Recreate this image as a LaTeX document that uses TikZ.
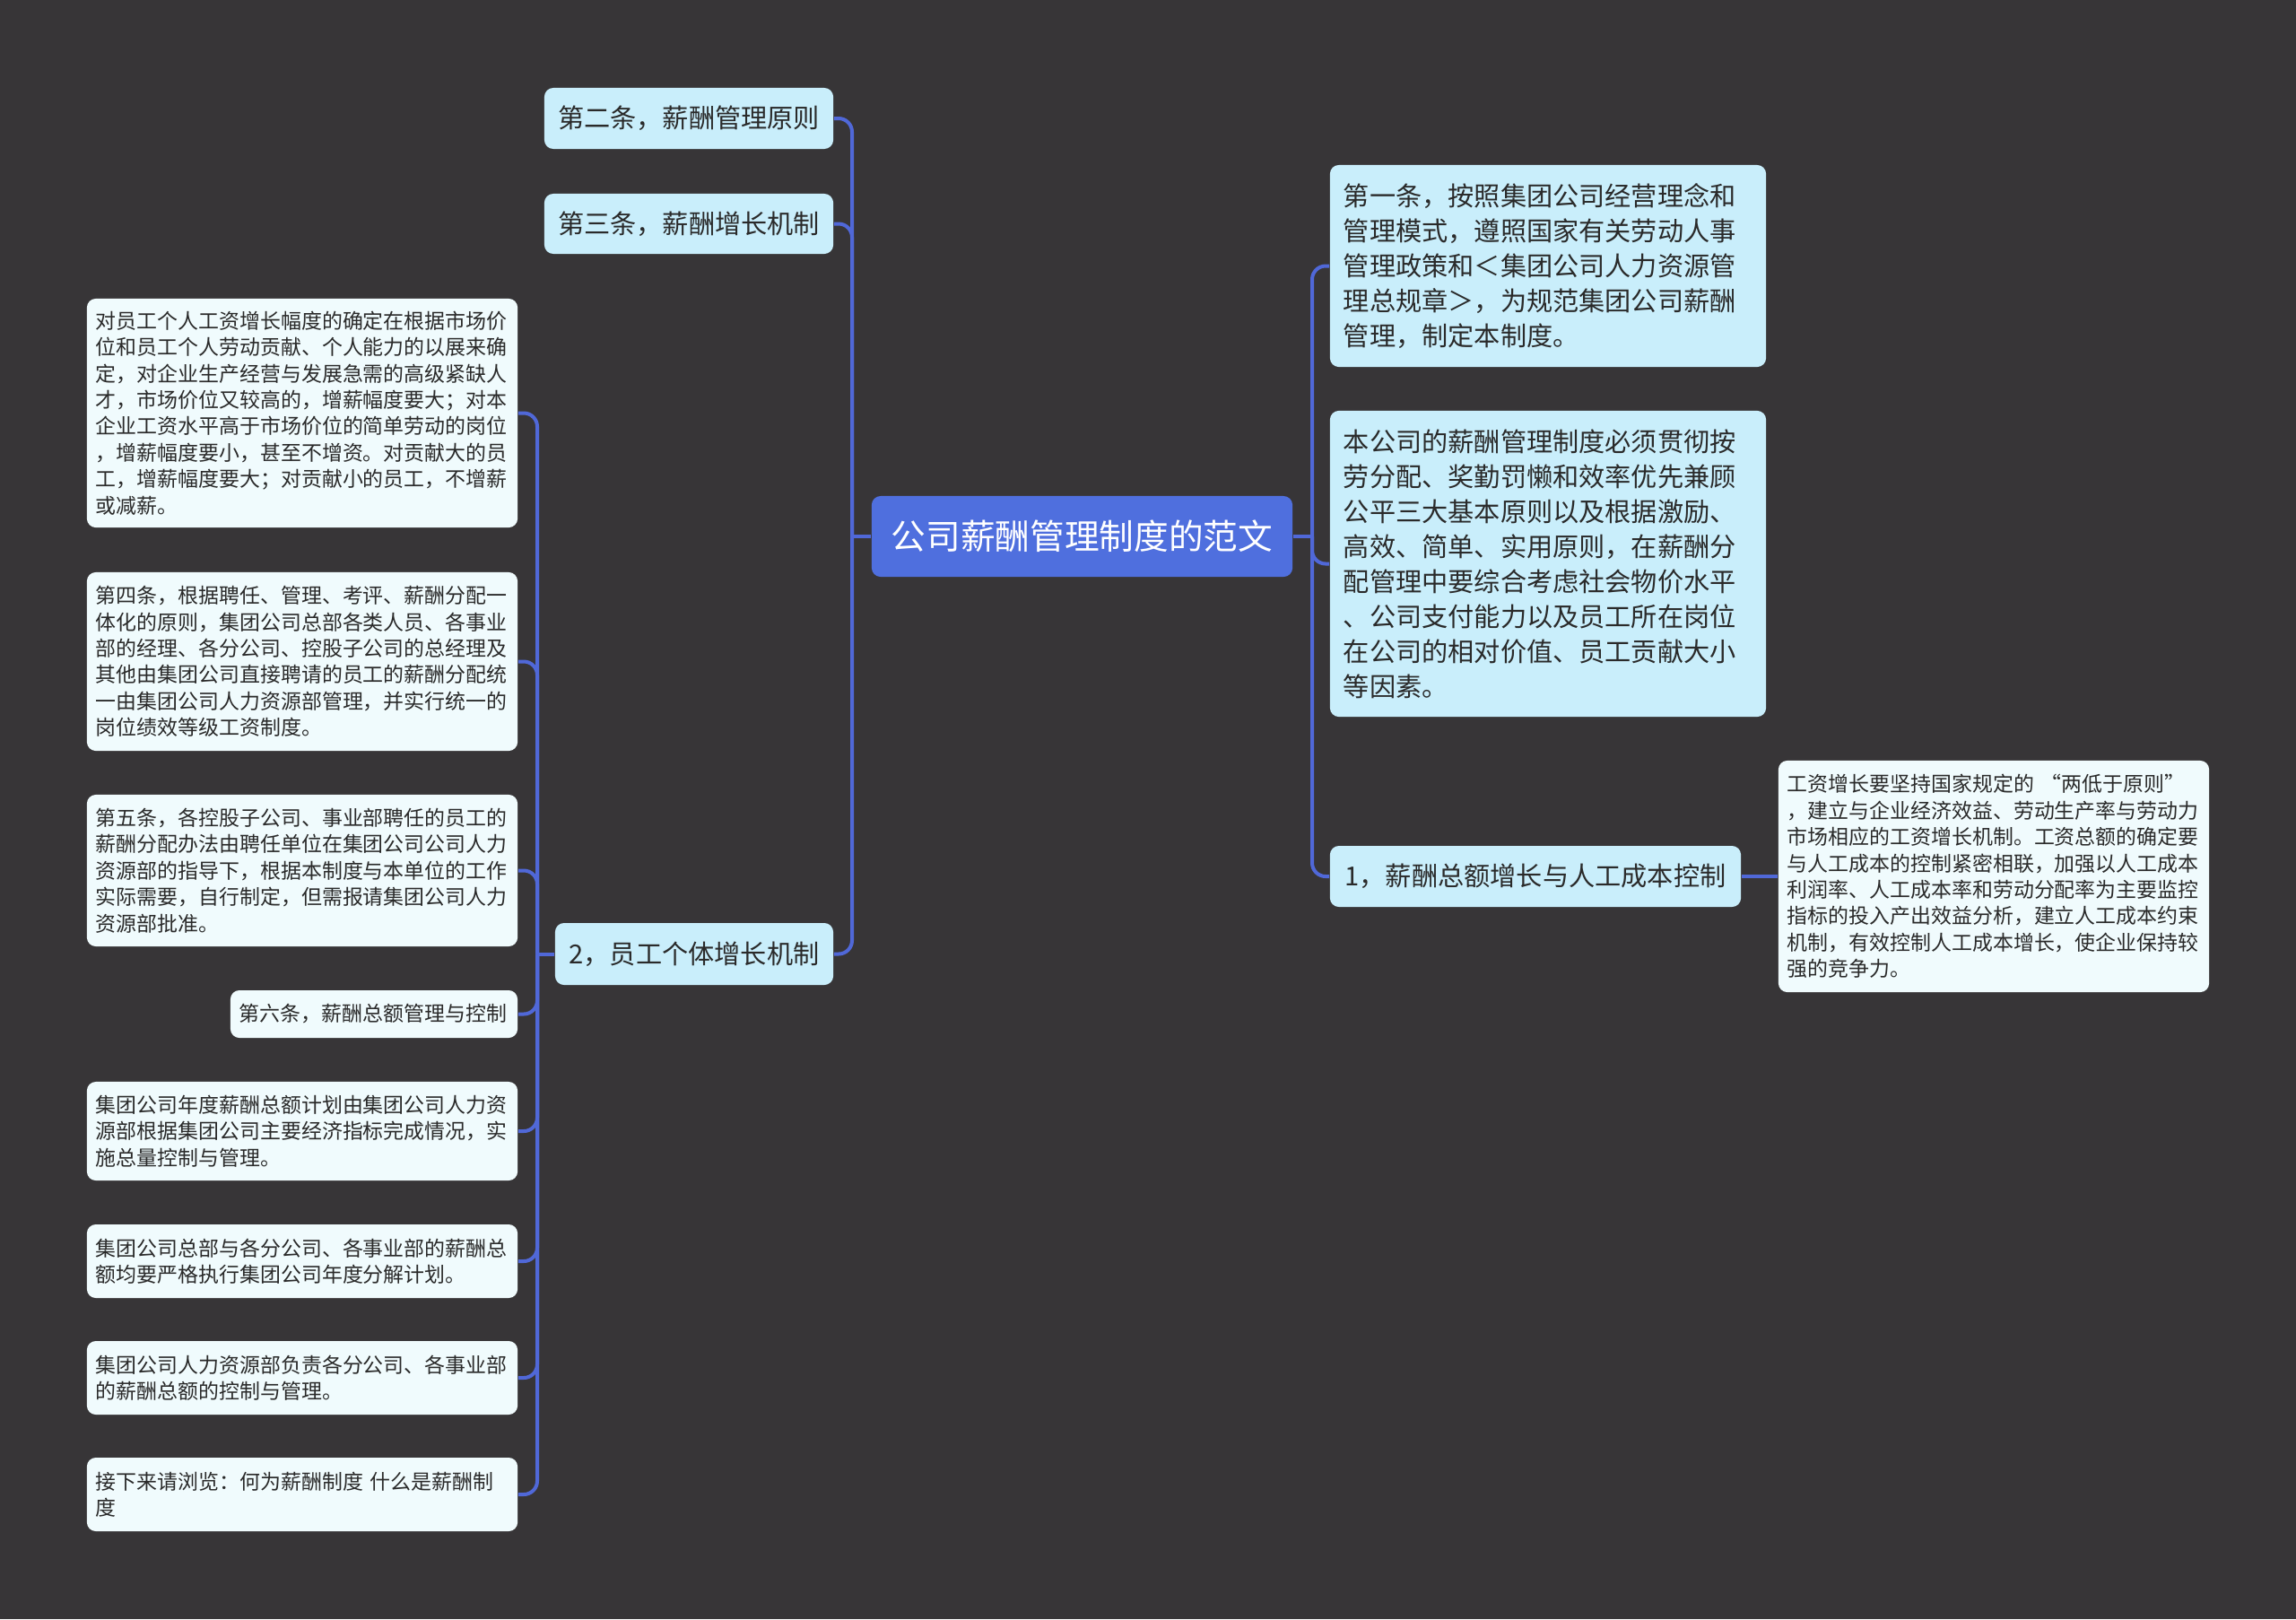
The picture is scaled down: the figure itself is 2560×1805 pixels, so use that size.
\documentclass[tikz,border=0pt]{standalone}
\usepackage{fontspec}
\newfontfamily\cjkfont{Noto Sans CJK SC}
\usepackage{tikz}
\definecolor{bgdark}{HTML}{373537}
\definecolor{rootblue}{HTML}{4F6FDE}
\definecolor{topicfill}{HTML}{C9EEFB}
\definecolor{leaffill}{HTML}{F0FBFD}
\definecolor{linkblue}{HTML}{5068D8}
\definecolor{inkgray}{HTML}{2A2A2A}

\begin{document}
\begin{tikzpicture}[x=0.01cm, y=-0.01cm, font=\cjkfont]
		\tikzset{base/.style={rounded corners=0.1cm, anchor=center, inner ysep=0pt},
			root/.style={base, fill=rootblue, text=white, inner xsep=0.2cm, minimum width=4.69cm, minimum height=0.9cm, font=\cjkfont\fontsize{11pt}{13pt}\selectfont},
			topic/.style={base, fill=topicfill, text=inkgray, align=left, inner xsep=0.15cm, font=\cjkfont\fontsize{8.3pt}{11.1pt}\selectfont},
			leaf/.style={base, fill=leaffill, text=inkgray, align=left, inner xsep=0.1cm, text width=4.6cm, font=\cjkfont\fontsize{6.52pt}{8.35pt}\selectfont},
			link/.style={draw=linkblue, line width=0.04cm, rounded corners=0.15cm}}
		\fill[bgdark] (0,0) rectangle (2560,1805);
		% centre
		\node[root] (root) at (1206.5,598) {公司薪酬管理制度的范文};
		% left side
		\node[topic, minimum width=3.22cm, minimum height=0.68cm] (art2) at (768,132) {第二条，薪酬管理原则};
		\node[topic, minimum width=3.22cm, minimum height=0.67cm] (art3) at (768,249.5) {第三条，薪酬增长机制};
		\node[topic, minimum width=3.10cm, minimum height=0.69cm] (staff) at (774,1063.5) {2，员工个体增长机制};
		\node[leaf, minimum height=2.55cm] (raise) at (337,460.5) {对员工个人工资增长幅度的确定在根据市场价\\位和员工个人劳动贡献、个人能力的以展来确\\定，对企业生产经营与发展急需的高级紧缺人\\才，市场价位又较高的，增薪幅度要大；对本\\企业工资水平高于市场价位的简单劳动的岗位\\，增薪幅度要小，甚至不增资。对贡献大的员\\工，增薪幅度要大；对贡献小的员工，不增薪\\或减薪。};
		\node[leaf, minimum height=1.99cm] (art4) at (337,737.5) {第四条，根据聘任、管理、考评、薪酬分配一\\体化的原则，集团公司总部各类人员、各事业\\部的经理、各分公司、控股子公司的总经理及\\其他由集团公司直接聘请的员工的薪酬分配统\\一由集团公司人力资源部管理，并实行统一的\\岗位绩效等级工资制度。};
		\node[leaf, minimum height=1.69cm] (art5) at (337,970.5) {第五条，各控股子公司、事业部聘任的员工的\\薪酬分配办法由聘任单位在集团公司公司人力\\资源部的指导下，根据本制度与本单位的工作\\实际需要，自行制定，但需报请集团公司人力\\资源部批准。};
		\node[leaf, text width=3.0cm, minimum height=0.53cm] (art6) at (417,1130.5) {第六条，薪酬总额管理与控制};
		\node[leaf, minimum height=1.10cm] (plan) at (337,1261) {集团公司年度薪酬总额计划由集团公司人力资\\源部根据集团公司主要经济指标完成情况，实\\施总量控制与管理。};
		\node[leaf, minimum height=0.82cm] (total) at (337,1406) {集团公司总部与各分公司、各事业部的薪酬总\\额均要严格执行集团公司年度分解计划。};
		\node[leaf, minimum height=0.82cm] (hr) at (337,1536) {集团公司人力资源部负责各分公司、各事业部\\的薪酬总额的控制与管理。};
		\node[leaf, minimum height=0.82cm] (next) at (337,1666) {接下来请浏览：何为薪酬制度 什么是薪酬制\\度};
		% right side
		\node[topic, text width=4.56cm, minimum height=2.25cm] (art1) at (1726,296.5) {第一条，按照集团公司经营理念和\\管理模式，遵照国家有关劳动人事\\管理政策和＜集团公司人力资源管\\理总规章＞，为规范集团公司薪酬\\管理，制定本制度。};
		\node[topic, text width=4.56cm, minimum height=3.41cm] (basis) at (1726,628.5) {本公司的薪酬管理制度必须贯彻按\\劳分配、奖勤罚懒和效率优先兼顾\\公平三大基本原则以及根据激励、\\高效、简单、实用原则，在薪酬分\\配管理中要综合考虑社会物价水平\\、公司支付能力以及员工所在岗位\\在公司的相对价值、员工贡献大小\\等因素。};
		\node[topic, minimum width=4.58cm, minimum height=0.68cm] (sum) at (1712,977) {1，薪酬总额增长与人工成本控制};
		\node[leaf, minimum height=2.58cm] (growth) at (2223,977) {工资增长要坚持国家规定的 “两低于原则”\\，建立与企业经济效益、劳动生产率与劳动力\\市场相应的工资增长机制。工资总额的确定要\\与人工成本的控制紧密相联，加强以人工成本\\利润率、人工成本率和劳动分配率为主要监控\\指标的投入产出效益分析，建立人工成本约束\\机制，有效控制人工成本增长，使企业保持较\\强的竞争力。};
		% links
		\coordinate (lj) at (950,598);
		\coordinate (sj) at (599,1063.5);
		\coordinate (rj) at (1463,598);
		\draw[link] (root.west) -- (lj);
		\foreach \t in {art2,art3,staff} \draw[link] (lj) |- (\t.east);
		\draw[link] (staff.west) -- (sj);
		\foreach \t in {raise,art4,art5,art6,plan,total,hr,next} \draw[link] (sj) |- (\t.east);
		\draw[link] (root.east) -- (rj);
		\foreach \t in {art1,basis,sum} \draw[link] (rj) |- (\t.west);
		\draw[link] (sum.east) -- (growth.west);
	\end{tikzpicture}
\end{document}
